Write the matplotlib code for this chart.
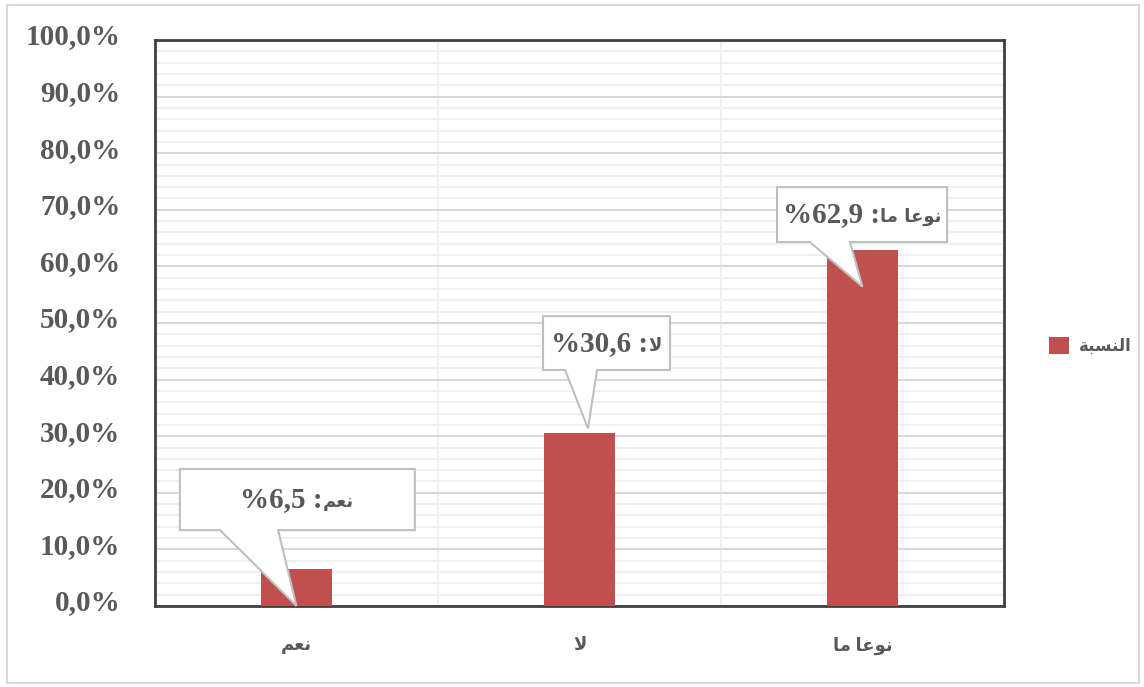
import matplotlib.pyplot as plt
from matplotlib.patches import Polygon, Rectangle
from matplotlib.ticker import MultipleLocator, FuncFormatter
from matplotlib.offsetbox import TextArea, HPacker, AnnotationBbox
from matplotlib.transforms import ScaledTranslation

# Arabic text written in presentation forms (visual order), since matplotlib does no shaping
categories = ['\uFEE2\uFECC\uFEE7', '\uFEFB', '\uFE8E\uFEE3 \uFE8E\uFECB\uFEEE\uFEE7']
values = [6.5, 30.6, 62.9]
value_labels = ['6,5', '30,6', '62,9']
series_name = '\uFE94\uFE92\uFEB4\uFEE8\uFEDF\uFE8D'

# callout boxes, relative to each category: (left, right, bottom, top, base_l, base_r, tip_dx, tip_y)
callouts = [
    (-0.412, 0.418, 13.4, 24.2, -0.27, -0.065, 0.0, 0.0),
    (-0.129, 0.320, 41.7, 51.2, -0.051, 0.062, 0.03, 31.4),
    (-0.302, 0.299, 64.3, 74.0, -0.186, -0.044, 0.0, 56.4),
]

gray = '#595959'
fam = ['Liberation Serif', 'DejaVu Sans']

fig = plt.figure(figsize=(11.44, 6.87), dpi=100)
fig.add_artist(Rectangle((0.006, 0.006), 0.99, 0.987, transform=fig.transFigure,
                         facecolor='none', edgecolor='#D9D9D9', lw=1.5))
ax = fig.add_axes([0.1355, 0.1179, 0.7421, 0.8239])

x = list(range(len(categories)))
bars = ax.bar(x, values, width=0.25, color='#C0504D', zorder=3, label=series_name)

ax.set_xlim(-0.5, 2.5)
ax.set_ylim(0, 100)
ax.yaxis.set_major_locator(MultipleLocator(10))
ax.yaxis.set_minor_locator(MultipleLocator(2))
ax.yaxis.set_major_formatter(FuncFormatter(lambda v, p: f'{v:.1f}%'.replace('.', ',')))
ax.set_xticks(x)
ax.set_xticks([-0.5 + 0.5 * k for k in range(7)], minor=True)
ax.set_xticklabels(categories)

ax.grid(axis='y', which='minor', color='#F0F0F0', lw=1.5, zorder=0)
ax.grid(axis='y', which='major', color='#D9D9D9', lw=1.5, zorder=1)
ax.grid(axis='x', which='minor', color='#F0F0F0', lw=1.5, zorder=0)
ax.grid(axis='x', which='major', visible=False)
ax.set_axisbelow(True)

ax.tick_params(axis='both', which='both', length=0)
ax.tick_params(axis='y', pad=25)
ax.tick_params(axis='x', pad=22)
up = ScaledTranslation(0, 0.06, fig.dpi_scale_trans)
for lab in ax.get_yticklabels():
    lab.set_family(fam)
    lab.set_fontsize(21)
    lab.set_fontweight('bold')
    lab.set_color(gray)
    lab.set_transform(lab.get_transform() + up)
for lab in ax.get_xticklabels():
    lab.set_family(fam)
    lab.set_fontsize(13)
    lab.set_fontweight('bold')
    lab.set_color(gray)

for s in ax.spines.values():
    s.set_color('#404040')
    s.set_linewidth(2)

num_props = dict(family='Liberation Serif', fontsize=21, fontweight='bold', color=gray)
ar_props = dict(family='DejaVu Sans', fontsize=13, fontweight='bold', color=gray)
for i, (v, txt, c) in enumerate(zip(values, value_labels, callouts)):
    l, r, b, t, bl, br, tdx, ty = c
    pts = [(i + l, t), (i + r, t), (i + r, b), (i + br, b), (i + tdx, ty),
           (i + bl, b), (i + l, b)]
    ax.add_patch(Polygon(pts, closed=True, facecolor='white', edgecolor='#BFBFBF',
                         lw=1.5, zorder=5, clip_on=False))
    pack = HPacker(children=[TextArea(f'%{txt} :', textprops=num_props),
                             TextArea(categories[i], textprops=ar_props)],
                   align='baseline', pad=0, sep=0)
    ab = AnnotationBbox(pack, (i + (l + r) / 2, (b + t) / 2), frameon=False,
                        box_alignment=(0.5, 0.5), zorder=6)
    ax.add_artist(ab)

leg = ax.legend(handles=[bars], loc='center left', bbox_to_anchor=(1.035, 0.46),
                frameon=False, handlelength=1.2, handleheight=1.2, handletextpad=0.6,
                prop={'family': fam, 'size': 12, 'weight': 'bold'})
for t in leg.get_texts():
    t.set_color(gray)

fig.savefig('out.png', dpi=100)
